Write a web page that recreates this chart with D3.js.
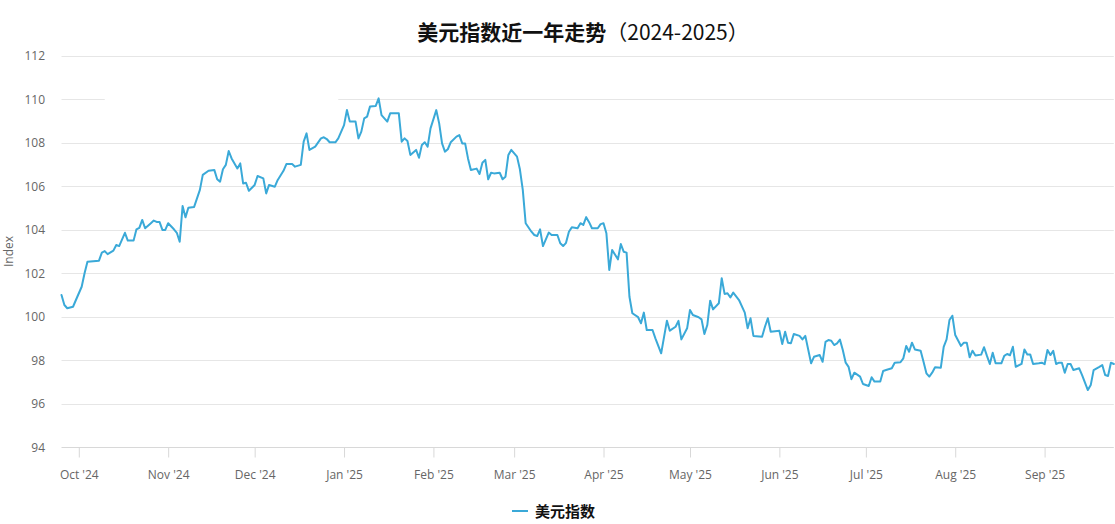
<!DOCTYPE html>
<html><head><meta charset="utf-8">
<script src="https://cdn.jsdelivr.net/npm/d3@7"></script>
<style>
body{margin:0;background:#fff}
svg{display:block;font-family:"Open Sans","Noto Sans CJK SC",sans-serif}
</style>
</head><body>
<svg id="chart" width="1115" height="524"></svg>
<script>
// ---------- data ----------
const dates = [
"2024-09-25","2024-09-26","2024-09-27","2024-09-29","2024-09-30","2024-10-02","2024-10-03","2024-10-04","2024-10-08","2024-10-09",
"2024-10-10","2024-10-11","2024-10-13","2024-10-14","2024-10-15","2024-10-17","2024-10-18","2024-10-20","2024-10-21","2024-10-22",
"2024-10-23","2024-10-24","2024-10-26","2024-10-27","2024-10-28","2024-10-29","2024-10-30","2024-10-31","2024-11-01","2024-11-03",
"2024-11-04","2024-11-05","2024-11-06","2024-11-07","2024-11-08","2024-11-10","2024-11-12","2024-11-13","2024-11-15","2024-11-17",
"2024-11-18","2024-11-19","2024-11-20","2024-11-21","2024-11-22","2024-11-23","2024-11-25","2024-11-26","2024-11-27","2024-11-28",
"2024-11-29","2024-12-01","2024-12-02","2024-12-04","2024-12-05","2024-12-06","2024-12-08","2024-12-09","2024-12-11","2024-12-12",
"2024-12-14","2024-12-15","2024-12-17","2024-12-18","2024-12-19","2024-12-20","2024-12-22","2024-12-24","2024-12-25","2024-12-26",
"2024-12-27","2024-12-29","2024-12-30","2025-01-01","2025-01-02","2025-01-03","2025-01-05","2025-01-06","2025-01-07","2025-01-08",
"2025-01-09","2025-01-10","2025-01-12","2025-01-13","2025-01-14","2025-01-16","2025-01-17","2025-01-20","2025-01-21","2025-01-22",
"2025-01-23","2025-01-24","2025-01-26","2025-01-27","2025-01-28","2025-01-29","2025-01-30","2025-01-31","2025-02-02","2025-02-03",
"2025-02-04","2025-02-05","2025-02-06","2025-02-07","2025-02-09","2025-02-10","2025-02-11","2025-02-12","2025-02-13","2025-02-14",
"2025-02-16","2025-02-17","2025-02-18","2025-02-19","2025-02-20","2025-02-21","2025-02-22","2025-02-24","2025-02-25","2025-02-26",
"2025-02-27","2025-02-28","2025-03-02","2025-03-03","2025-03-04","2025-03-05","2025-03-07","2025-03-08","2025-03-09","2025-03-10",
"2025-03-11","2025-03-13","2025-03-14","2025-03-16","2025-03-17","2025-03-18","2025-03-19","2025-03-20","2025-03-21","2025-03-23",
"2025-03-24","2025-03-25","2025-03-26","2025-03-27","2025-03-28","2025-03-30","2025-03-31","2025-04-01","2025-04-02","2025-04-03",
"2025-04-04","2025-04-06","2025-04-07","2025-04-08","2025-04-09","2025-04-10","2025-04-11","2025-04-13","2025-04-14","2025-04-15",
"2025-04-16","2025-04-18","2025-04-19","2025-04-21","2025-04-23","2025-04-24","2025-04-26","2025-04-27","2025-04-28","2025-04-30",
"2025-05-01","2025-05-02","2025-05-04","2025-05-05","2025-05-06","2025-05-07","2025-05-08","2025-05-09","2025-05-11","2025-05-12",
"2025-05-13","2025-05-14","2025-05-15","2025-05-16","2025-05-18","2025-05-20","2025-05-21","2025-05-22","2025-05-23","2025-05-26",
"2025-05-27","2025-05-28","2025-05-29","2025-06-01","2025-06-02","2025-06-03","2025-06-04","2025-06-05","2025-06-06","2025-06-08",
"2025-06-09","2025-06-10","2025-06-12","2025-06-13","2025-06-15","2025-06-16","2025-06-17","2025-06-18","2025-06-19","2025-06-20",
"2025-06-21","2025-06-22","2025-06-23","2025-06-24","2025-06-25","2025-06-26","2025-06-27","2025-06-29","2025-06-30","2025-07-02",
"2025-07-03","2025-07-04","2025-07-06","2025-07-07","2025-07-08","2025-07-10","2025-07-11","2025-07-13","2025-07-14","2025-07-15",
"2025-07-16","2025-07-17","2025-07-18","2025-07-20","2025-07-21","2025-07-22","2025-07-23","2025-07-24","2025-07-25","2025-07-27",
"2025-07-28","2025-07-29","2025-07-30","2025-07-31","2025-08-01","2025-08-03","2025-08-04","2025-08-05","2025-08-06","2025-08-07",
"2025-08-08","2025-08-10","2025-08-11","2025-08-12","2025-08-13","2025-08-14","2025-08-15","2025-08-17","2025-08-18","2025-08-19",
"2025-08-20","2025-08-21","2025-08-22","2025-08-24","2025-08-25","2025-08-26","2025-08-27","2025-08-28","2025-08-30","2025-08-31",
"2025-09-01","2025-09-02","2025-09-03","2025-09-04","2025-09-05","2025-09-06","2025-09-07","2025-09-08","2025-09-09","2025-09-10",
"2025-09-11","2025-09-13","2025-09-14","2025-09-16","2025-09-17","2025-09-18","2025-09-20","2025-09-21","2025-09-22","2025-09-23",
"2025-09-24","2025-09-25"
];
const values = [
101.00,100.54,100.39,100.46,100.77,101.38,102.00,102.53,102.58,102.95,
103.02,102.88,103.04,103.30,103.25,103.86,103.50,103.50,104.02,104.09,
104.45,104.07,104.30,104.42,104.36,104.36,103.99,103.99,104.30,104.02,
103.86,103.45,105.09,104.57,105.01,105.05,105.83,106.52,106.71,106.75,
106.32,106.21,106.78,106.98,107.62,107.28,106.82,107.05,106.13,106.16,
105.79,106.06,106.47,106.36,105.67,106.06,105.98,106.29,106.71,107.02,
107.02,106.90,106.98,108.05,108.43,107.67,107.82,108.20,108.25,108.17,
108.02,108.02,108.20,108.81,109.50,108.97,108.97,108.20,108.51,109.12,
109.20,109.66,109.69,110.04,109.27,108.97,109.35,109.35,108.05,108.20,
108.08,107.44,107.67,107.31,107.90,108.02,107.82,108.66,109.50,108.89,
107.97,107.59,107.70,108.02,108.28,108.35,107.97,107.97,107.28,106.75,
106.81,106.56,107.08,107.21,106.32,106.62,106.59,106.62,106.32,106.44,
107.44,107.67,107.36,106.78,105.83,104.30,103.91,103.76,103.71,104.02,
103.25,103.87,103.76,103.76,103.38,103.25,103.40,103.91,104.11,104.07,
104.30,104.22,104.58,104.35,104.07,104.07,104.26,104.30,103.84,102.15,
103.07,102.64,103.34,102.99,102.95,100.92,100.16,99.98,99.70,100.19,
99.39,99.39,99.01,98.32,99.82,99.36,99.54,99.81,98.96,99.47,
100.31,100.08,99.98,99.88,99.21,99.62,100.74,100.34,100.62,101.77,
101.05,101.08,100.89,101.11,100.77,100.19,99.47,99.93,99.12,99.08,
99.54,99.93,99.31,99.36,98.75,99.31,98.81,98.78,99.21,99.12,
98.96,99.12,97.86,98.16,98.24,97.93,98.85,98.93,98.90,98.70,
98.78,98.95,98.47,97.89,97.70,97.13,97.43,97.25,96.91,96.82,
97.22,97.02,97.02,97.51,97.55,97.63,97.89,97.91,98.09,98.66,
98.39,98.81,98.50,98.44,97.93,97.40,97.25,97.43,97.68,97.66,
98.62,98.96,99.85,100.05,99.16,98.66,98.81,98.81,98.14,98.44,
98.22,98.26,98.60,98.20,97.83,98.35,97.86,97.86,98.20,98.29,
98.23,98.62,97.70,97.83,98.50,98.27,98.27,97.83,97.86,97.89,
97.82,98.47,98.24,98.43,97.83,97.89,97.89,97.43,97.83,97.83,
97.55,97.63,97.32,96.63,96.86,97.55,97.70,97.78,97.32,97.28,
97.89,97.83
];
const yTicks = [94, 96, 98, 100, 102, 104, 106, 108, 110, 112];
const xTickDates = ["2024-10-01","2024-11-01","2024-12-01","2025-01-01","2025-02-01","2025-03-01",
                    "2025-04-01","2025-05-01","2025-06-01","2025-07-01","2025-08-01","2025-09-01"];
const seriesName = "美元指数";
const titleMain = "美元指数近一年走势";
const titleSub = "（2024-2025）";
const yAxisTitle = "Index";
// the 110 grid line is interrupted between these dates in the reference
const gridGap = {value: 110, from: "2024-10-10", to: "2024-12-30"};

// ---------- chart ----------
const svg = d3.select("#chart");
const parse = d3.utcParse("%Y-%m-%d");
const data = dates.map((d, i) => ({date: parse(d), value: values[i]}));

const plot = {left: 61.5, right: 1113.8, top: 55.7, bottom: 447.3};
const x = d3.scaleUtc().domain(d3.extent(data, d => d.date)).range([plot.left, plot.right]);
const y = d3.scaleLinear().domain([94, 112]).range([plot.bottom, plot.top]);

// grid
const grid = svg.append("g");
yTicks.forEach(t => {
  const yy = Math.round(y(t)) + 0.5;
  if (t === gridGap.value) {
    const g1 = x(parse(gridGap.from)), g2 = x(parse(gridGap.to));
    [[plot.left, g1], [g2, plot.right]].forEach(([a, b]) => {
      grid.append("line").attr("x1", a).attr("x2", b).attr("y1", yy).attr("y2", yy)
        .attr("stroke", "#e6e6e6").attr("stroke-width", 1);
    });
  } else if (t !== 94) {
    grid.append("line").attr("x1", plot.left).attr("x2", plot.right).attr("y1", yy).attr("y2", yy)
      .attr("stroke", "#e6e6e6").attr("stroke-width", 1);
  }
});

// y labels
const yAxis = d3.axisLeft(y).tickValues(yTicks).tickSize(0).tickPadding(0);
const gy = svg.append("g").attr("transform", `translate(45,0)`).call(yAxis);
gy.select(".domain").remove();
gy.selectAll("text").attr("fill", "#666").style("font-size", "12px").style("font-family", '"Open Sans",sans-serif');

// y axis title
svg.append("text")
  .attr("transform", `translate(13,${(plot.top + plot.bottom) / 2}) rotate(-90)`)
  .attr("text-anchor", "middle")
  .attr("fill", "#666").style("font-size", "12px")
  .text(yAxisTitle);

// x axis
const xAxis = d3.axisBottom(x)
  .tickValues(xTickDates.map(parse))
  .tickFormat(d3.utcFormat("%b '%y"))
  .tickSize(10).tickPadding(13);
const gx = svg.append("g").attr("transform", `translate(0,${Math.round(plot.bottom) + 0.5})`).call(xAxis);
gx.select(".domain").attr("d", `M${plot.left},0H${plot.right}`).attr("stroke", "#d8d8d8");
gx.selectAll(".tick line").attr("stroke", "#d8d8d8");
gx.selectAll("text").attr("fill", "#666").style("font-size", "12px").style("font-family", '"Open Sans",sans-serif');

// line
const line = d3.line().x(d => x(d.date)).y(d => y(d.value));
svg.append("path").datum(data)
  .attr("fill", "none").attr("stroke", "#3aa9d8").attr("stroke-width", 2)
  .attr("stroke-linejoin", "round").attr("stroke-linecap", "round")
  .attr("d", line);

// title
const title = svg.append("text").attr("x", 583).attr("y", 40).attr("text-anchor", "middle")
  .attr("fill", "#111").style("font-size", "21px");
title.append("tspan").style("font-weight", "bold").style("font-family", '"Noto Sans CJK SC",sans-serif').text(titleMain);
title.append("tspan").style("font-weight", "normal").style("font-family", '"Noto Sans CJK SC",sans-serif').text(titleSub);

// legend
const lg = svg.append("g").attr("transform", "translate(512,511)");
lg.append("line").attr("x1", 0).attr("x2", 16).attr("y1", 0).attr("y2", 0)
  .attr("stroke", "#3aa9d8").attr("stroke-width", 2);
lg.append("text").attr("x", 23).attr("y", 5.5).attr("fill", "#111")
  .style("font-size", "15px").style("font-weight", "bold")
  .style("font-family", '"Noto Sans CJK SC",sans-serif').text(seriesName);
</script>
</body></html>
